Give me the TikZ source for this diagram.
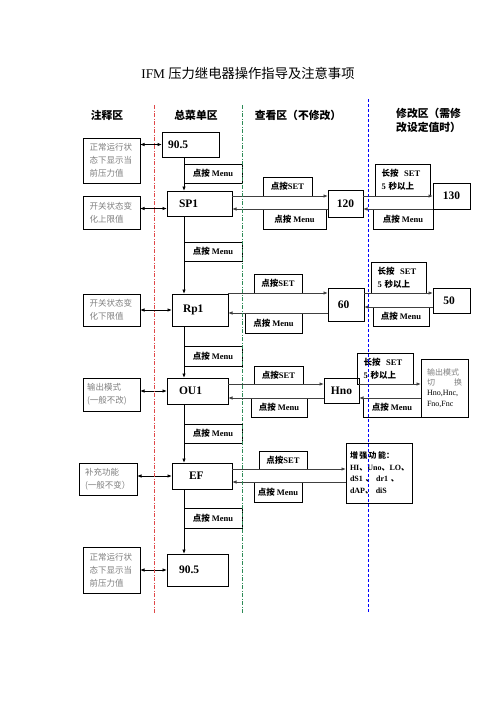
\documentclass[tikz,border=0pt]{standalone}
\usepackage{fontspec}
\setmainfont{Liberation Serif}
\newfontfamily\cjk{Noto Sans CJK SC}
\usetikzlibrary{arrows.meta}
\newcommand\zh[1]{{\cjk #1}}
\definecolor{notegray}{HTML}{7F7F7F}
\definecolor{redline}{HTML}{E04848}
\definecolor{greenline}{HTML}{2E8B57}
\definecolor{blueline}{HTML}{0000FF}
\definecolor{arrgray}{HTML}{404040}
\begin{document}
\begin{tikzpicture}[x=1pt,y=-1pt,
  bx/.style={draw,line width=0.9pt,inner sep=0pt,outer sep=0pt},
  mbox/.style={bx,font=\fontsize{11.5}{13}\selectfont\bfseries,align=left},
  vbox/.style={bx,font=\fontsize{11.5}{13}\selectfont\bfseries,align=center},
  note/.style={bx,font=\fontsize{8.5}{13}\selectfont\cjk,text=notegray,align=left,minimum width=57pt,text width=44pt,inner xsep=6.5pt},
  lab/.style={bx,font=\fontsize{8.5}{10}\selectfont\bfseries,align=center},
  lsb/.style={bx,font=\fontsize{8.5}{13}\selectfont\bfseries,align=left},
  hdr/.style={font=\fontsize{10.8}{13.5}\selectfont\cjk\bfseries,inner sep=0pt},
  arr/.style={draw=arrgray,line width=0.9pt,-{Latex[length=4.5pt,width=3.5pt]}},
  darr/.style={draw=black,line width=0.9pt,{Latex[length=4.5pt,width=3.5pt]}-{Latex[length=4.5pt,width=3.5pt]}},
  varr/.style={draw=black,line width=0.9pt,-{Latex[length=4.5pt,width=3.5pt]}}
]
\useasboundingbox (0,0) rectangle (496,702);

% title and headers
\node[font=\fontsize{13.3}{15}\selectfont,inner sep=0pt] (title) at (248,73) {IFM \zh{压力继电器操作指导及注意事项}};
\node[hdr] (h1) at (107,115) {注释区};
\node[hdr] (h2) at (196,115) {总菜单区};
\node[hdr] (h3) at (298,115) {查看区（不修改）};
\node[hdr,anchor=north west,align=left] (h4) at (396,108) {修改区（需修\\改设定值时）};

% note boxes
\node[note,minimum height=45pt] (n1) at (111.5,160.5) {正常运行状\\态下显示当\\前压力值};
\node[note,minimum height=33pt] (n2) at (111.5,212.5) {开关状态变\\化上限值};
\node[note,minimum height=32pt] (n3) at (111.5,310) {开关状态变\\化下限值};
\node[note,minimum height=33pt,text width=49pt,inner xsep=4pt] (n4) at (111.5,394.5) {输出模式\\(一般不改)};
\node[note,minimum height=32pt,minimum width=58pt,text width=46pt,inner xsep=6pt] (n5) at (108,479) {补充功能\\(一般不变）};
\node[note,minimum height=46pt] (n6) at (111.5,570) {正常运行状\\态下显示当\\前压力值};

% main menu boxes
\node[mbox,minimum width=57pt,minimum height=25pt,text width=45pt,inner xsep=6pt] (top) at (190.5,144.5) {90.5};
\node[mbox,minimum width=65pt,minimum height=25pt,text width=41pt,inner xsep=12pt] (sp1) at (199.5,203.5) {SP1};
\node[mbox,minimum width=56pt,minimum height=32pt,text width=34pt,inner xsep=11pt] (rp1) at (200,310) {Rp1};
\node[mbox,minimum width=61pt,minimum height=26pt,text width=37pt,inner xsep=12pt] (ou1) at (197.5,391) {OU1};
\node[mbox,minimum width=60pt,minimum height=26pt,text width=26pt,inner xsep=17pt] (ef) at (202,476) {EF};
\node[mbox,minimum width=61pt,minimum height=32pt,text width=37pt,inner xsep=12pt] (bot) at (197.5,570) {90.5};

% menu labels between main boxes
\node[lab,minimum width=58pt,minimum height=19pt] (m1) at (213,173.5) {\zh{点按} Menu};
\node[lab,minimum width=58pt,minimum height=19pt] (m2) at (213,251.5) {\zh{点按} Menu};
\node[lab,minimum width=58pt,minimum height=20pt] (m3) at (213,356) {\zh{点按} Menu};
\node[lab,minimum width=58pt,minimum height=19pt] (m4) at (213,433.5) {\zh{点按} Menu};
\node[lab,minimum width=58pt,minimum height=20pt] (m5) at (213,518) {\zh{点按} Menu};

% row 1
\node[lab,minimum width=49pt,minimum height=19pt] (set1) at (287.5,186.5) {\zh{点按}SET};
\node[vbox,minimum width=35pt,minimum height=27pt] (v120) at (345.5,203.5) {120};
\node[lab,minimum width=63pt,minimum height=20pt] (mr1) at (294.5,219) {\zh{点按} Menu};
\node[lsb,minimum width=52pt,minimum height=32pt,text width=43pt,inner xsep=6pt] (ls1) at (403,180) {\zh{长按}\ \ SET\\5 \zh{秒以上}};
\node[vbox,minimum width=37pt,minimum height=26pt] (v130) at (451.5,196) {130};
\node[lab,minimum width=60pt,minimum height=20pt] (mm1) at (403,219) {\zh{点按} Menu};

% row 2
\node[lab,minimum width=48pt,minimum height=19pt] (set2) at (278,283.5) {\zh{点按}SET};
\node[vbox,minimum width=36pt,minimum height=33pt] (v60) at (346,304.5) {60\hspace*{5pt}};
\node[lab,minimum width=57pt,minimum height=20pt] (mr2) at (273.5,323) {\zh{点按} Menu};
\node[lsb,minimum width=52pt,minimum height=31pt,text width=43pt,inner xsep=6pt] (ls2) at (399,277.5) {\zh{长按}\ \ SET\\5 \zh{秒以上}};
\node[vbox,minimum width=37pt,minimum height=25pt] (v50) at (451.5,300.5) {50\hspace*{5pt}};
\node[lab,minimum width=56pt,minimum height=19pt] (mm2) at (401,316.5) {\zh{点按} Menu};

% row 3
\node[lab,minimum width=49pt,minimum height=18pt] (set3) at (278.5,375) {\zh{点按}SET};
\node[vbox,minimum width=35pt,minimum height=25pt] (hno) at (341.5,390.5) {Hno};
\node[lab,minimum width=56pt,minimum height=19pt] (mr3) at (279,407.5) {\zh{点按} Menu};
\node[lsb,minimum width=53pt,minimum height=31pt,text width=44pt,inner xsep=6pt] (ls3) at (385.5,368.5) {\zh{长按}\ \ SET\\5 \zh{秒以上}};
\node[bx,minimum width=47pt,minimum height=58pt,text width=35pt,inner xsep=6pt,align=left,font=\fontsize{8}{10.2}\selectfont] (omode) at (444.5,388) {\textcolor{notegray}{\zh{输出模式}}\\\textcolor{notegray}{\zh{切}\hfill\zh{换}}\\Hno,Hnc,\\Fno,Fnc};
\node[lab,minimum width=58pt,minimum height=19pt] (mm3) at (392,407.5) {\zh{点按} Menu};

% row 4
\node[lab,minimum width=48pt,minimum height=18pt] (set4) at (283,460) {\zh{点按}SET};
\node[bx,minimum width=66pt,minimum height=60pt,text width=58pt,inner xsep=4pt,align=left,font=\fontsize{8}{11.7}\selectfont\bfseries] (enh) at (379,473) {\zh{增\,强\,功\,能：}\\HI\zh{、}Uno\zh{、}LO\zh{、}\\dS1 \zh{、} dr1 \zh{、}\\dAP\zh{、} diS};
\node[lab,minimum width=48pt,minimum height=20pt] (mr4) at (278,492) {\zh{点按} Menu};

% vertical menu arrows
\draw[varr] (m1.west |- top.south) -- (m1.west |- sp1.north);
\draw[varr] (m2.west |- sp1.south) -- (m2.west |- rp1.north);
\draw[varr] (m3.west |- rp1.south) -- (m3.west |- ou1.north);
\draw[varr] (m4.west |- ou1.south) -- (m4.west |- ef.north);
\draw[varr] (m5.west |- ef.south) -- (m5.west |- bot.north);

% left double arrows
\draw[darr] (n1.east |- top.west) -- (top.west);
\draw[darr] ([yshift=-5pt]n2.east |- sp1.west) -- ([yshift=-5pt]sp1.west);
\draw[darr] (n3.east |- rp1.west) -- (rp1.west);
\draw[darr] (n4.east |- ou1.west) -- (ou1.west);
\draw[darr] (n5.east |- ef.west) -- (ef.west);
\draw[darr] (n6.east |- bot.west) -- (bot.west);

% row arrows
\draw[arr] (sp1.east |- set1.south) -- (v120.west |- set1.south);
\draw[arr] (v120.west |- mr1.north) -- (sp1.east |- mr1.north);
\draw[arr] (v120.east |- ls1.south) -- (v130.west |- ls1.south);
\draw[arr] (v130.west |- mm1.north) -- (v120.east |- mm1.north);

\draw[arr] (rp1.east |- set2.south) -- (v60.west |- set2.south);
\draw[arr] (v60.west |- mr2.north) -- (rp1.east |- mr2.north);
\draw[arr] (v60.east |- ls2.south) -- (v50.west |- ls2.south);
\draw[arr] (v50.west |- mm2.north) -- (v60.east |- mm2.north);

\draw[arr] (ou1.east |- set3.south) -- (hno.west |- set3.south);
\draw[arr] (hno.west |- mr3.north) -- (ou1.east |- mr3.north);
\draw[arr] (hno.east |- ls3.south) -- (omode.west |- ls3.south);
\draw[arr] (omode.west |- mm3.north) -- (hno.east |- mm3.north);

\draw[arr] (ef.east |- set4.south) -- (enh.west |- set4.south);
\draw[arr] (enh.west |- mr4.north) -- (ef.east |- mr4.north);

% dividers
\coordinate (ra) at (154,105); \coordinate (rb) at (154,613);
\coordinate (ga) at (242,105); \coordinate (gb) at (242,613);
\coordinate (ba) at (368,99);  \coordinate (bb) at (368,613);
\draw[redline,line width=0.8pt,dash pattern=on 4pt off 1.5pt on 1pt off 1.5pt] (ra) -- (rb);
\draw[greenline,line width=0.8pt,dash pattern=on 4pt off 1.5pt on 1pt off 1.5pt] (ga) -- (gb);
\draw[blueline,line width=0.9pt,dash pattern=on 3pt off 2pt] (ba) -- (bb);
\end{tikzpicture}
\end{document}
